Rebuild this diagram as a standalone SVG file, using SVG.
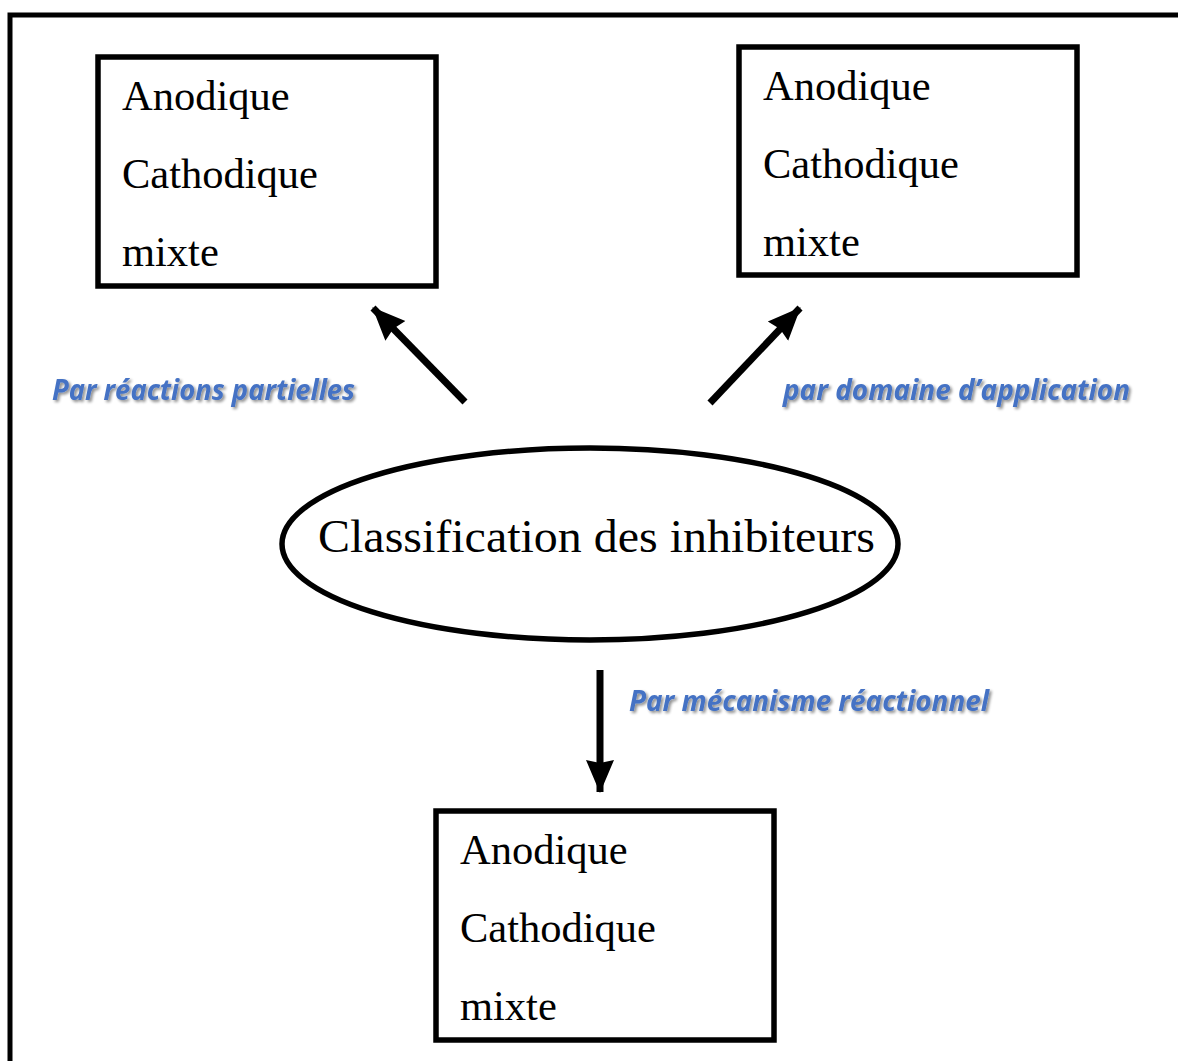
<svg xmlns="http://www.w3.org/2000/svg" width="1178" height="1061" viewBox="0 0 1178 1061">
<defs>
<style>
.box{fill:#fff;stroke:#000;stroke-width:5.5;}
.t{font-family:"Liberation Serif","Times New Roman",serif;font-size:42.5px;fill:#000;}
.lbl{font-family:"Open Sans","Liberation Sans",sans-serif;font-weight:bold;font-style:italic;font-size:28px;fill:#4472C4;filter:url(#sh);}
.arr{stroke:#000;stroke-width:7;fill:none;marker-end:url(#ah);}
</style>
<filter id="sh" x="-5%" y="-30%" width="110%" height="160%">
<feGaussianBlur in="SourceAlpha" stdDeviation="1.5" result="b"/>
<feOffset dx="2" dy="2" result="o"/>
<feComponentTransfer in="o" result="s"><feFuncA type="linear" slope="0.45"/></feComponentTransfer>
<feMerge><feMergeNode in="s"/><feMergeNode in="SourceGraphic"/></feMerge>
</filter>
<marker id="ah" markerUnits="userSpaceOnUse" markerWidth="34" markerHeight="34" viewBox="0 0 34 34" refX="32" refY="17" orient="auto">
<path d="M0,3 L33,17 L0,31 L3,17 Z" fill="#000"/>
</marker>
</defs>
<rect x="10" y="15" width="1180" height="1060" fill="none" stroke="#000" stroke-width="5"/>
<g id="box-left">
<rect class="box" x="98" y="57" width="338" height="229"/>
<text class="t" x="122" y="110">Anodique</text>
<text class="t" x="122" y="188">Cathodique</text>
<text class="t" x="122" y="266">mixte</text>
</g>
<g id="box-right">
<rect class="box" x="739" y="47" width="338" height="228"/>
<text class="t" x="763" y="100">Anodique</text>
<text class="t" x="763" y="178">Cathodique</text>
<text class="t" x="763" y="256">mixte</text>
</g>
<g id="box-bottom">
<rect class="box" x="436" y="811" width="338" height="229"/>
<text class="t" x="460" y="864">Anodique</text>
<text class="t" x="460" y="942">Cathodique</text>
<text class="t" x="460" y="1020">mixte</text>
</g>
<g id="center">
<ellipse cx="590" cy="544" rx="308" ry="96" fill="#fff" stroke="#000" stroke-width="5.5"/>
<text x="318" y="552" font-family="Liberation Serif,'Times New Roman',serif" font-size="47" textLength="557" lengthAdjust="spacingAndGlyphs">Classification des inhibiteurs</text>
</g>
<g id="connectors">
<line class="arr" x1="465" y1="402" x2="373" y2="308"/>
<line class="arr" x1="710" y1="403" x2="800" y2="308"/>
<line class="arr" x1="600" y1="670" x2="600" y2="792"/>
</g>
<g id="labels">
<text class="lbl" x="52" y="400" textLength="303" lengthAdjust="spacingAndGlyphs">Par réactions partielles</text>
<text class="lbl" x="783" y="400" textLength="347" lengthAdjust="spacingAndGlyphs">par domaine d’application</text>
<text class="lbl" x="629" y="711" textLength="360" lengthAdjust="spacingAndGlyphs">Par mécanisme réactionnel</text>
</g>
</svg>
